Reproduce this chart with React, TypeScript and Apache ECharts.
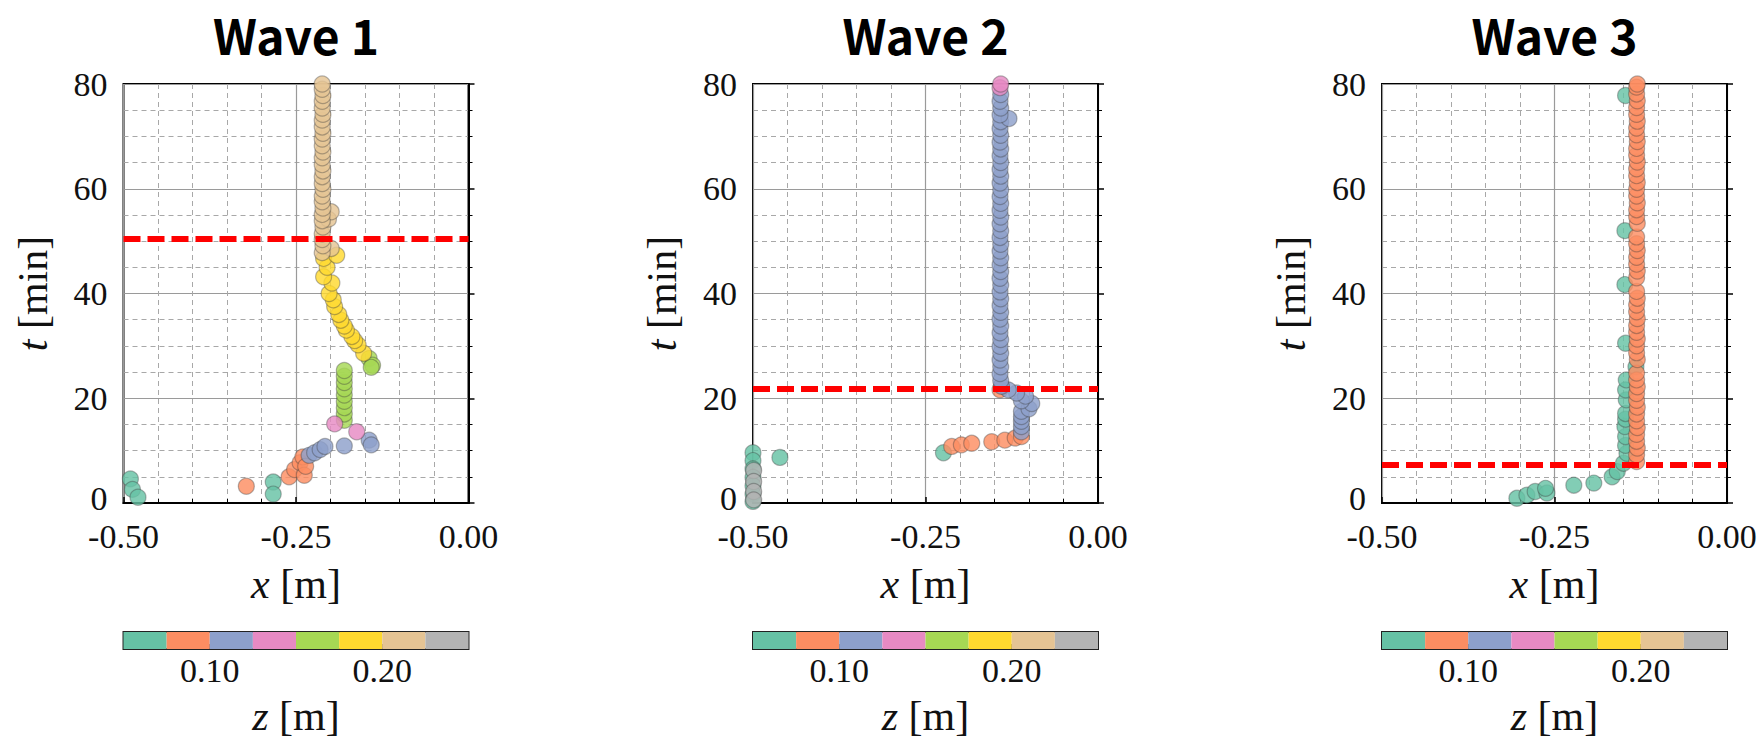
import React, { useEffect, useRef } from "react";
import * as echarts from "echarts";

// ---------- data ----------
const panelTitles = ["Wave 1", "Wave 2", "Wave 3"];
const xTickLabels = ["-0.50", "-0.25", "0.00"];
const tTickLabels = ["0", "20", "40", "60", "80"];
const thresholds = [50.5, 21.9, 7.3];

// z bins of the discrete (Set2) colour scale
const zEdges = [0.05, 0.075, 0.1, 0.125, 0.15, 0.175, 0.2, 0.225, 0.25];
const set2Colors = ["#66c2a5", "#fc8d62", "#8da0cb", "#e78ac3", "#a6d854", "#ffd92f", "#e5c494", "#b3b3b3"];
const zTickValues = [0.1, 0.2];

// [x (m), t (min), z (m)]
const wave1: number[][] = [
  [-0.49, 4.6, 0.06], [-0.487, 2.6, 0.06], [-0.479, 1.1, 0.06], [-0.283, 4.0, 0.06], [-0.283, 1.7, 0.06],
  [-0.322, 3.2, 0.09], [-0.26, 5.0, 0.09], [-0.252, 6.4, 0.09], [-0.244, 7.7, 0.09], [-0.24, 8.8, 0.09],
  [-0.238, 5.3, 0.09], [-0.236, 7.0, 0.09],
  [-0.231, 9.1, 0.11], [-0.223, 9.6, 0.11], [-0.215, 10.2, 0.11], [-0.208, 10.8, 0.11], [-0.18, 10.9, 0.11],
  [-0.144, 12.0, 0.11], [-0.141, 11.1, 0.11],
  [-0.18, 15.8, 0.16], [-0.18, 17.0, 0.16], [-0.18, 18.2, 0.16], [-0.18, 19.4, 0.16], [-0.18, 20.6, 0.16],
  [-0.18, 21.8, 0.16], [-0.18, 23.0, 0.16], [-0.18, 24.2, 0.16], [-0.18, 25.3, 0.16],
  [-0.144, 27.6, 0.16], [-0.139, 26.3, 0.16], [-0.141, 25.9, 0.16],
  [-0.194, 15.1, 0.14], [-0.162, 13.6, 0.14],
  [-0.152, 28.6, 0.19], [-0.16, 30.2, 0.19], [-0.165, 31.0, 0.19], [-0.169, 31.8, 0.19], [-0.177, 33.0, 0.19],
  [-0.18, 33.8, 0.19], [-0.185, 34.9, 0.19], [-0.188, 36.0, 0.19], [-0.194, 37.5, 0.19], [-0.196, 38.8, 0.19],
  [-0.202, 40.0, 0.19], [-0.198, 42.0, 0.19], [-0.21, 43.2, 0.19], [-0.205, 45.0, 0.19], [-0.21, 46.7, 0.19],
  [-0.191, 47.3, 0.19],
  [-0.199, 48.6, 0.21], [-0.212, 47.8, 0.21], [-0.211, 49.1, 0.21], [-0.212, 50.3, 0.21], [-0.212, 51.4, 0.21],
  [-0.211, 52.7, 0.21], [-0.203, 54.2, 0.21], [-0.199, 55.6, 0.21], [-0.212, 53.9, 0.21], [-0.212, 55.1, 0.21],
  [-0.211, 56.3, 0.21], [-0.212, 57.5, 0.21], [-0.212, 58.6, 0.21], [-0.211, 59.9, 0.21], [-0.212, 61.0, 0.21],
  [-0.212, 62.3, 0.21], [-0.211, 63.4, 0.21], [-0.212, 64.6, 0.21], [-0.212, 65.9, 0.21], [-0.211, 67.0, 0.21],
  [-0.212, 68.2, 0.21], [-0.212, 69.5, 0.21], [-0.211, 70.6, 0.21], [-0.212, 71.8, 0.21], [-0.212, 73.1, 0.21],
  [-0.211, 74.2, 0.21], [-0.212, 75.4, 0.21], [-0.212, 76.7, 0.21], [-0.211, 77.8, 0.21], [-0.212, 79.0, 0.21],
  [-0.212, 80.0, 0.21],
];

const wave2: number[][] = [
  [-0.5, 9.6, 0.06], [-0.5, 8.1, 0.06], [-0.5, 6.5, 0.06], [-0.5, 4.9, 0.06], [-0.5, 3.3, 0.06], [-0.5, 1.7, 0.06],
  [-0.5, 0.3, 0.06], [-0.499, 6.2, 0.24], [-0.499, 4.1, 0.24], [-0.499, 2.2, 0.24], [-0.499, 0.6, 0.24],
  [-0.461, 8.7, 0.06], [-0.224, 9.6, 0.06],
  [-0.212, 10.8, 0.09], [-0.198, 11.1, 0.09], [-0.183, 11.4, 0.09], [-0.154, 11.7, 0.09], [-0.135, 12.0, 0.09],
  [-0.12, 12.4, 0.09], [-0.111, 12.7, 0.09], [-0.142, 21.6, 0.09],
  [-0.111, 13.6, 0.11], [-0.111, 14.6, 0.11], [-0.111, 15.6, 0.11], [-0.111, 16.5, 0.11], [-0.111, 17.5, 0.11],
  [-0.1, 18.0, 0.11], [-0.096, 19.0, 0.11], [-0.111, 19.5, 0.11], [-0.105, 20.4, 0.11], [-0.118, 21.0, 0.11],
  [-0.13, 21.6, 0.11], [-0.14, 22.3, 0.11],
  [-0.141, 23.4, 0.11], [-0.142, 24.7, 0.11], [-0.141, 26.0, 0.11], [-0.142, 27.3, 0.11], [-0.141, 28.6, 0.11],
  [-0.142, 29.9, 0.11], [-0.141, 31.2, 0.11], [-0.142, 32.5, 0.11], [-0.141, 33.8, 0.11], [-0.142, 35.1, 0.11],
  [-0.141, 36.4, 0.11], [-0.142, 37.7, 0.11], [-0.141, 39.0, 0.11], [-0.142, 40.3, 0.11], [-0.141, 41.6, 0.11],
  [-0.142, 42.9, 0.11], [-0.141, 44.2, 0.11], [-0.142, 45.5, 0.11], [-0.141, 46.8, 0.11], [-0.142, 48.1, 0.11],
  [-0.141, 49.4, 0.11], [-0.142, 50.7, 0.11], [-0.141, 52.0, 0.11], [-0.142, 53.3, 0.11], [-0.141, 54.6, 0.11],
  [-0.142, 55.9, 0.11], [-0.141, 57.2, 0.11], [-0.142, 58.5, 0.11], [-0.141, 59.8, 0.11], [-0.142, 61.1, 0.11],
  [-0.141, 62.4, 0.11], [-0.142, 63.7, 0.11], [-0.141, 65.0, 0.11], [-0.142, 66.3, 0.11], [-0.141, 67.6, 0.11],
  [-0.142, 68.9, 0.11], [-0.141, 70.2, 0.11], [-0.142, 71.5, 0.11], [-0.141, 72.8, 0.11], [-0.129, 73.4, 0.11],
  [-0.142, 74.1, 0.11], [-0.141, 75.4, 0.11], [-0.142, 76.7, 0.11], [-0.141, 78.0, 0.11], [-0.142, 79.3, 0.14],
  [-0.141, 80.0, 0.14],
];

const wave3: number[][] = [
  [-0.3045, 0.9, 0.06], [-0.29, 1.5, 0.06], [-0.278, 2.2, 0.06], [-0.261, 1.9, 0.06], [-0.263, 2.8, 0.06],
  [-0.222, 3.4, 0.06], [-0.193, 3.8, 0.06], [-0.1665, 5.0, 0.06], [-0.159, 6.0, 0.06], [-0.15, 7.6, 0.06],
  [-0.145, 9.5, 0.06], [-0.147, 11.0, 0.06], [-0.147, 12.7, 0.06], [-0.148, 14.6, 0.06], [-0.147, 16.0, 0.06],
  [-0.147, 17.1, 0.06], [-0.146, 19.7, 0.06], [-0.147, 21.6, 0.06], [-0.146, 23.5, 0.06], [-0.132, 26.0, 0.06],
  [-0.147, 30.5, 0.06], [-0.148, 41.7, 0.06], [-0.148, 52.0, 0.06], [-0.147, 77.8, 0.06],
  [-0.131, 7.9, 0.09], [-0.131, 9.2, 0.09], [-0.13, 10.5, 0.09], [-0.131, 11.8, 0.09], [-0.131, 13.1, 0.09],
  [-0.13, 14.4, 0.09], [-0.131, 15.7, 0.09], [-0.131, 17.0, 0.09], [-0.13, 18.3, 0.09], [-0.131, 19.6, 0.09],
  [-0.131, 20.9, 0.09], [-0.13, 22.2, 0.09], [-0.131, 23.5, 0.09], [-0.131, 24.8, 0.09], [-0.13, 27.4, 0.09],
  [-0.131, 28.7, 0.09], [-0.131, 30.0, 0.09], [-0.13, 31.3, 0.09], [-0.131, 32.6, 0.09], [-0.131, 33.9, 0.09],
  [-0.13, 35.2, 0.09], [-0.131, 36.5, 0.09], [-0.131, 37.8, 0.09], [-0.13, 39.1, 0.09], [-0.131, 40.4, 0.09],
  [-0.131, 43.0, 0.09], [-0.13, 44.3, 0.09], [-0.131, 45.6, 0.09], [-0.131, 46.9, 0.09], [-0.13, 48.2, 0.09],
  [-0.131, 49.5, 0.09], [-0.131, 50.8, 0.09], [-0.13, 53.4, 0.09], [-0.131, 54.7, 0.09], [-0.131, 56.0, 0.09],
  [-0.13, 57.3, 0.09], [-0.131, 58.6, 0.09], [-0.131, 59.9, 0.09], [-0.13, 61.2, 0.09], [-0.131, 62.5, 0.09],
  [-0.131, 63.8, 0.09], [-0.13, 65.1, 0.09], [-0.131, 66.4, 0.09], [-0.131, 67.7, 0.09], [-0.13, 69.0, 0.09],
  [-0.131, 70.3, 0.09], [-0.131, 71.6, 0.09], [-0.13, 72.9, 0.09], [-0.131, 74.2, 0.09], [-0.131, 75.5, 0.09],
  [-0.13, 76.8, 0.09], [-0.131, 78.1, 0.09], [-0.131, 79.4, 0.09], [-0.13, 80.0, 0.09],
];

const waves = [wave1, wave2, wave3];

// ---------- layout ----------
const gridLefts = [123.5, 753, 1382];
const gridWidth = 345;
const gridTop = 84;
const gridHeight = 419;
const cbTop = 632;
const cbHeight = 17;

const SERIF = "Liberation Serif";

export default function App() {
  const ref = useRef<HTMLDivElement>(null);

  useEffect(() => {
    if (!ref.current) return;
    const chart = echarts.init(ref.current, undefined, { renderer: "svg" });

    const grids: any[] = [];
    const xAxes: any[] = [];
    const yAxes: any[] = [];
    const series: any[] = [];
    const graphics: any[] = [];

    const nameStyle = {
      fontFamily: SERIF,
      fontSize: 42,
      color: "#111",
      rich: { i: { fontFamily: SERIF, fontSize: 42, fontStyle: "italic", color: "#111" } },
    };

    for (let p = 0; p < 3; p++) {
      grids.push({
        left: gridLefts[p], top: gridTop, width: gridWidth, height: gridHeight,
        show: true, borderColor: "#000", borderWidth: 2, backgroundColor: "transparent",
      });
      grids.push({
        left: gridLefts[p], top: cbTop, width: gridWidth, height: cbHeight,
        show: true, borderColor: "#222", borderWidth: 2, backgroundColor: "transparent",
      });

      xAxes.push({
        gridIndex: 2 * p, type: "value", min: -0.5, max: 0, interval: 0.25,
        name: "{i|x} [m]", nameLocation: "middle", nameGap: 60, nameTextStyle: nameStyle,
        axisLine: { show: true, lineStyle: { color: "#000", width: 2 } },
        axisTick: { show: true, inside: true, length: 6, lineStyle: { color: "#000", width: 1.5 } },
        minorTick: { show: true, splitNumber: 5, length: 4, lineStyle: { color: "#000", width: 1 } },
        splitLine: { show: true, lineStyle: { color: "#9a9a9a", width: 1.2 } },
        minorSplitLine: { show: true, lineStyle: { color: "#a8a8a8", width: 1, type: [5, 4] } },
        axisLabel: {
          fontFamily: SERIF, fontSize: 34, lineHeight: 24, color: "#111", margin: 21,
          formatter: (v: number) => xTickLabels[Math.round((v + 0.5) / 0.25)] ?? v.toFixed(2),
        },
      });
      yAxes.push({
        gridIndex: 2 * p, type: "value", min: 0, max: 80, interval: 20,
        name: "{i|t} [min]", nameLocation: "middle", nameRotate: 90, nameGap: 70, nameTextStyle: nameStyle,
        axisLine: { show: true, lineStyle: { color: "#000", width: 2 } },
        axisTick: { show: true, inside: true, length: 6, lineStyle: { color: "#000", width: 1.5 } },
        minorTick: { show: true, splitNumber: 4, length: 4, lineStyle: { color: "#000", width: 1 } },
        splitLine: { show: true, lineStyle: { color: "#9a9a9a", width: 1.2 } },
        minorSplitLine: { show: true, lineStyle: { color: "#a8a8a8", width: 1, type: [5, 4] } },
        axisLabel: {
          fontFamily: SERIF, fontSize: 34, lineHeight: 24, color: "#111", margin: 16,
          formatter: (v: number) => {
            const s = tTickLabels[Math.round(v / 20)] ?? String(v);
            return v === 0 ? "{z|" + s + "}" : s;
          },
          rich: { z: { fontFamily: SERIF, fontSize: 34, lineHeight: 24, color: "#111", padding: [0, 0, 10, 0] } },
        },
      });

      // colour bar axes
      xAxes.push({
        gridIndex: 2 * p + 1, type: "value", min: zEdges[0], max: zEdges[zEdges.length - 1],
        name: "{i|z} [m]", nameLocation: "middle", nameGap: 46, nameTextStyle: nameStyle,
        axisLine: { show: false },
        axisTick: { show: true, inside: true, length: 5, customValues: zTickValues, lineStyle: { color: "#222", width: 1.5 } },
        splitLine: { show: false },
        axisLabel: {
          fontFamily: SERIF, fontSize: 34, lineHeight: 30, color: "#111", margin: 6, customValues: zTickValues,
          formatter: (v: number) => v.toFixed(2),
        },
      });
      yAxes.push({
        gridIndex: 2 * p + 1, type: "value", min: 0, max: 1, show: false,
      });
    }

    for (let p = 0; p < 3; p++) {
      series.push({
        type: "scatter",
        xAxisIndex: 2 * p, yAxisIndex: 2 * p,
        data: waves[p],
        symbolSize: 16,
        clip: true,
        itemStyle: { opacity: 0.82, borderColor: "rgba(60,60,60,0.45)", borderWidth: 1.2 },
        markLine: {
          silent: true,
          symbol: ["none", "none"],
          label: { show: false },
          lineStyle: { color: "#ff0000", width: 6, type: [17, 7], opacity: 1 },
          data: [{ yAxis: thresholds[p] }],
          z: 10,
        },
        z: 3,
      });
    }
    for (let p = 0; p < 3; p++) {
      series.push({
        type: "custom",
        xAxisIndex: 2 * p + 1, yAxisIndex: 2 * p + 1,
        data: zEdges.slice(0, -1).map((lo, i) => [lo, zEdges[i + 1], 0.5, i]),
        encode: { x: [0, 1], y: 2 },
        renderItem: (params: any, api: any) => {
          const p0 = api.coord([api.value(0), 1]);
          const p1 = api.coord([api.value(1), 0]);
          return {
            type: "rect",
            shape: { x: p0[0], y: p0[1], width: p1[0] - p0[0], height: p1[1] - p0[1] },
            style: { fill: set2Colors[api.value(3)] },
          };
        },
        z: 1,
      });
      graphics.push({
        type: "text",
        x: gridLefts[p] + gridWidth / 2,
        y: 34,
        style: {
          text: panelTitles[p],
          font: 'bold 48px "Noto Sans CJK JP"',
          textAlign: "center",
          textVerticalAlign: "middle",
          fill: "#000",
        },
      });
    }

    chart.setOption({
      animation: false,
      backgroundColor: "#ffffff",
      grid: grids,
      xAxis: xAxes,
      yAxis: yAxes,
      visualMap: {
        type: "piecewise",
        show: false,
        dimension: 2,
        seriesIndex: [0, 1, 2],
        pieces: zEdges.slice(0, -1).map((lo, i) => ({ gte: lo, lt: zEdges[i + 1], color: set2Colors[i] })),
      },
      series,
      graphic: graphics,
    });

    return () => chart.dispose();
  }, []);

  return (
    <div
      ref={ref}
      style={{ position: "absolute", left: 0, top: 0, width: 1760, height: 744, background: "#fff" }}
    />
  );
}
